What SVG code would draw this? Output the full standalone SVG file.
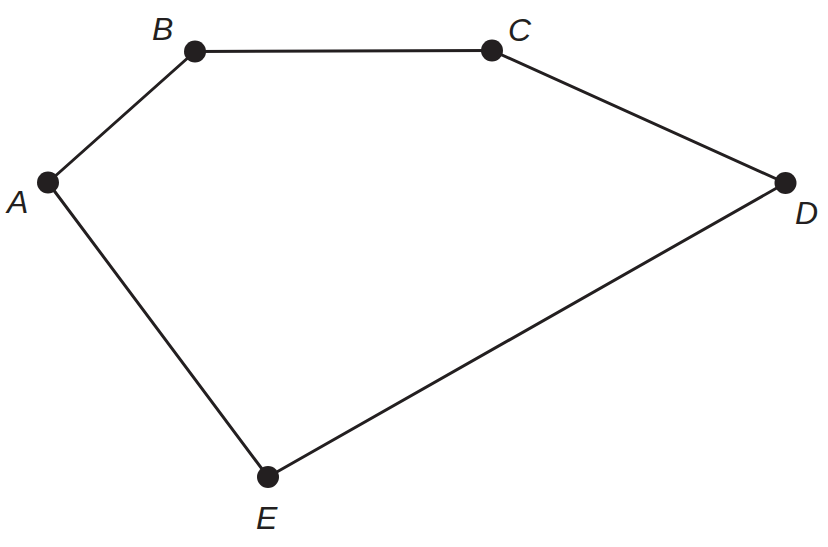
<svg xmlns="http://www.w3.org/2000/svg" width="828" height="547" viewBox="0 0 828 547">
<style>
.edge{stroke:#231f20;stroke-width:3;fill:none;stroke-linecap:round}
.pt{fill:#231f20}
.lbl{font-family:"Liberation Sans",Arial,sans-serif;font-style:italic;font-size:32px;fill:#231f20}
</style>
<rect width="828" height="547" fill="#fff"/>
<g id="connectors">
<line class="edge" x1="48" y1="182.5" x2="195" y2="51.5"/>
<line class="edge" x1="195" y1="51.5" x2="492" y2="50.5"/>
<line class="edge" x1="492" y1="50.5" x2="785.5" y2="183"/>
<line class="edge" x1="785.5" y1="183" x2="268" y2="477"/>
<line class="edge" x1="268" y1="477" x2="48" y2="182.5"/>
</g>
<g id="A"><circle class="pt" cx="48" cy="182.5" r="11"/><text class="lbl" x="7" y="213">A</text></g>
<g id="B"><circle class="pt" cx="195" cy="51.5" r="11"/><text class="lbl" x="152" y="40">B</text></g>
<g id="C"><circle class="pt" cx="492" cy="50.5" r="11"/><text class="lbl" x="508" y="41">C</text></g>
<g id="D"><circle class="pt" cx="785.5" cy="183" r="11"/><text class="lbl" x="795" y="224">D</text></g>
<g id="E"><circle class="pt" cx="268" cy="477" r="11"/><text class="lbl" x="256" y="529">E</text></g>
</svg>
